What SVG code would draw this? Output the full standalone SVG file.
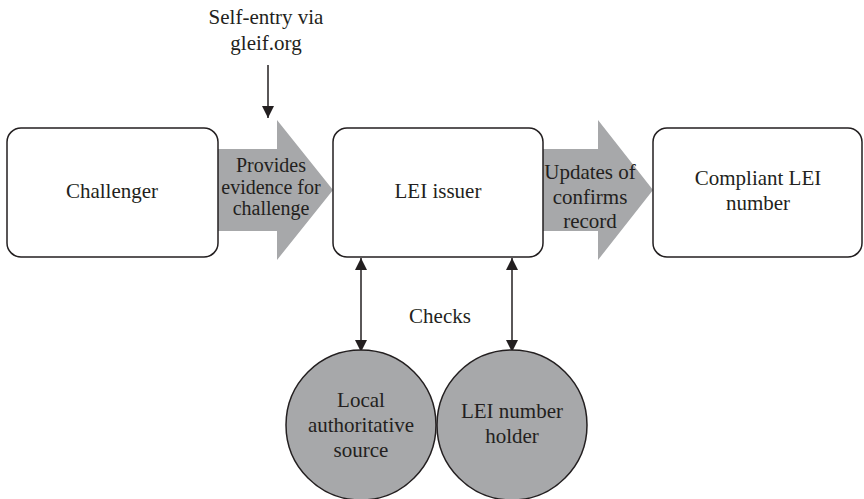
<svg xmlns="http://www.w3.org/2000/svg" width="864" height="499" viewBox="0 0 864 499">
  <style>
    .box { fill: #ffffff; stroke: #231f20; stroke-width: 1.5; }
    .circ { fill: #a7a8aa; stroke: #231f20; stroke-width: 1.5; }
    .big { fill: #a7a8aa; stroke: none; }
    .t { font-family: "Liberation Serif", "Times New Roman", serif; font-size: 21px; fill: #231f20; text-anchor: middle; }
    .s { font-size: 20px; }
    .conn { stroke: #231f20; stroke-width: 1.5; fill: none; }
  </style>
  <defs>
    <marker id="ah" viewBox="0 0 12 12" refX="12" refY="6" markerWidth="12" markerHeight="12" markerUnits="userSpaceOnUse" orient="auto-start-reverse">
      <path d="M0,0 L12,6 L0,12 z" fill="#231f20"/>
    </marker>
  </defs>

  <g id="connectors">
    <polygon id="arrow-provides" class="big" points="218,149 277,149 277,120 333,190 277,260 277,231 218,231"/>
    <polygon id="arrow-updates" class="big" points="543,149 598,149 598,120 653,190 598,260 598,231 543,231"/>
    <line class="conn" x1="268" y1="65" x2="268" y2="118" marker-end="url(#ah)"/>
    <line class="conn" x1="361" y1="258" x2="361" y2="352" marker-start="url(#ah)" marker-end="url(#ah)"/>
    <line class="conn" x1="512" y1="258" x2="512" y2="352" marker-start="url(#ah)" marker-end="url(#ah)"/>
    <text class="t s" x="271" y="172">Provides</text>
    <text class="t s" x="271" y="193.5">evidence for</text>
    <text class="t s" x="271" y="215">challenge</text>
    <text class="t" x="590" y="179">Updates of</text>
    <text class="t" x="590" y="203.5">confirms</text>
    <text class="t" x="590" y="228">record</text>
    <text class="t" x="440" y="323">Checks</text>
    <text class="t" x="266" y="24">Self-entry via</text>
    <text class="t" x="266" y="50">gleif.org</text>
  </g>

  <g id="challenger">
    <rect class="box" x="7" y="128" width="211" height="129" rx="14"/>
    <text class="t" x="112" y="198">Challenger</text>
  </g>

  <g id="lei-issuer">
    <rect class="box" x="333" y="128" width="210" height="129" rx="14"/>
    <text class="t" x="438" y="198">LEI issuer</text>
  </g>

  <g id="compliant">
    <rect class="box" x="653" y="128" width="209" height="129" rx="14"/>
    <text class="t" x="758" y="185">Compliant LEI</text>
    <text class="t" x="758" y="210">number</text>
  </g>

  <g id="local-source">
    <circle class="circ" cx="361" cy="425" r="75"/>
    <text class="t" x="361" y="407">Local</text>
    <text class="t" x="361" y="432">authoritative</text>
    <text class="t" x="361" y="457">source</text>
  </g>

  <g id="lei-holder">
    <circle class="circ" cx="512" cy="425" r="75"/>
    <text class="t" x="512" y="418">LEI number</text>
    <text class="t" x="512" y="443">holder</text>
  </g>
</svg>
